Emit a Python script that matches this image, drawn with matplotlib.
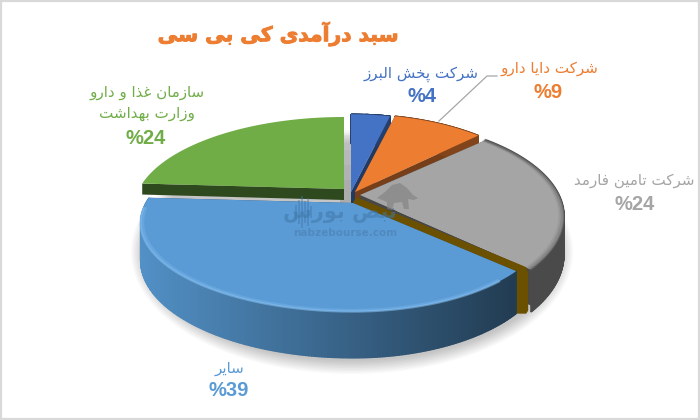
import numpy as np
import matplotlib
matplotlib.use("Agg")
import matplotlib.pyplot as plt
import matplotlib.patheffects as pe
from matplotlib.patches import Polygon, Rectangle
from matplotlib.colors import to_rgb

# ---- data ----
names = ["شرکت پخش البرز", "شرکت دایا دارو", "شرکت تامین فارمد", "سایر", "سازمان غذا و دارو\nوزارت بهداشت"]
values = [4, 9, 24, 39, 24]
colors = ["#4472c4", "#ed7d31", "#a5a5a5", "#5b9bd5", "#70ad47"]
title = "سبد درآمدی کی بی سی"

# matplotlib does no arabic shaping, so pick the presentation forms by hand
FORMS = {"ا": (0xFE8D, 2), "آ": (0xFE81, 2), "ب": (0xFE8F, 4), "پ": (0xFB56, 4), "ت": (0xFE95, 4),
         "خ": (0xFEA5, 4), "د": (0xFEA9, 2), "ذ": (0xFEAB, 2), "ر": (0xFEAD, 2), "ز": (0xFEAF, 2),
         "س": (0xFEB1, 4), "ش": (0xFEB5, 4), "ض": (0xFEBD, 4), "غ": (0xFECD, 4), "ف": (0xFED1, 4),
         "ک": (0xFB8E, 4), "ل": (0xFEDD, 4), "م": (0xFEE1, 4), "ن": (0xFEE5, 4), "و": (0xFEED, 2),
         "ه": (0xFEE9, 4), "ی": (0xFBFC, 4)}


def shape(text):
    out = []
    for i, c in enumerate(text):
        if c not in FORMS:
            out.append(c)
            continue
        start, n = FORMS[c]
        prev = text[i - 1] if i > 0 else " "
        nxt = text[i + 1] if i < len(text) - 1 else " "
        join_prev = prev in FORMS and FORMS[prev][1] == 4
        join_next = nxt in FORMS and n == 4
        if n == 2:
            offset = 1 if join_prev else 0
        elif join_prev and join_next:
            offset = 3
        elif join_next:
            offset = 2
        elif join_prev:
            offset = 1
        else:
            offset = 0
        out.append(chr(start + offset))
    return "".join(out[::-1])


fig = plt.figure(figsize=(7, 4.2), dpi=100)
ax = fig.add_axes([0, 0, 1, 1])
ax.set_xlim(0, 700)
ax.set_ylim(420, 0)
ax.axis("off")
ax.add_patch(Rectangle((1, 1), 697.5, 417.5, fc="white", ec="#d9d9d9", lw=1.6))

# projection of the tilted pie, the front is bigger than the back
A, B, K, DEPTH = 205, 88, 0.222, 36
apexes = [(351, 192), (355, 192), (360, 195), (353, 203), (344, 189)]
scale_y = [1.08, 1.08, 1.05, 0.96, 1.0]
scale_right = [0.93, 0.95, 0.97, 0.926, 1.0]
scale_left = [1.0, 1.0, 1.0, 1.01, 1.0]


def proj(frac, i, r=1.0):
    t = 2 * np.pi * np.asarray(frac)
    u, v = r * np.sin(t), -r * np.cos(t)
    w = 1 - K * v
    sx = np.where(u > 0, scale_right[i], scale_left[i])
    return apexes[i][0] + A * sx * u / w, apexes[i][1] + B * scale_y[i] * v / w, DEPTH / w


def shade(col, f):
    return tuple(np.clip(np.array(to_rgb(col)) * f, 0, 1))


# soft shadow under the pie
for grow in np.linspace(13, 0, 10):
    t = np.linspace(0, 2 * np.pi, 200)
    sx = 352 + (208 + grow) * np.cos(t)
    sy = 252 + (109 + grow) * np.sin(t)
    ax.add_patch(Polygon(np.c_[sx, sy], fc="black", ec="none", alpha=0.022, zorder=1))

# grey seen through the gap between the green and the blue slice
for top_y, al in zip([135, 150, 165, 180], [0.03, 0.03, 0.03, 0.03]):
    ax.add_patch(Rectangle((340, top_y), 16, 70, fc="black", ec="none", alpha=al, zorder=1.5))

fracs = np.cumsum([0] + values) / sum(values)
order = [4, 0, 1, 2, 3]
for z, i in enumerate(order):
    z0 = 2 + z * 2
    f0, f1 = fracs[i], fracs[i + 1]
    ap = apexes[i]
    col = colors[i]
    ts = np.linspace(f0, f1, 240)
    x, y, d = proj(ts, i)

    # cut faces
    cut_depth = 11 if i == 4 else DEPTH
    for end, f_cut in ((0, 0.42 if i == 4 else 0.62), (-1, 0.5)):
        dd = min(d[end], cut_depth)
        q = [(ap[0], ap[1]), (x[end], y[end]), (x[end], y[end] + dd), (ap[0], ap[1] + dd)]
        fc = "#484848" if i == 2 else shade(col, f_cut)
        ax.add_patch(Polygon(q, fc=fc, ec="none", zorder=z0))

    # gold band between the grey and the big blue slice
    if i == 3:
        px, py, pd = x[0], y[0], d[0]
        band = [(ap[0], ap[1]), (ap[0] + 3, ap[1] - 6), (px + 3, py - 7), (px + 10, py - 4), (px + 12, py + 2),
                (px + 12, py + pd - 3), (px + 10, py + pd), (px - 1, py + pd), (px, py)]
        ax.add_patch(Polygon(band, fc="#6b5000", ec="none", zorder=z0))

    # outer wall as thin quads, so it can carry a gradient
    if i != 4:
        for k in range(len(ts) - 1):
            if i == 3:
                s = np.clip((x[k] - 140) / 375, 0, 1)
                c = np.array(to_rgb("#5290c6")) * (1 - s) + np.array(to_rgb("#223c52")) * s
            elif i == 2:
                c = to_rgb("#4a4a4a")
            else:
                c = shade(col, 0.55)
            q = [(x[k], y[k]), (x[k + 1], y[k + 1]), (x[k + 1], y[k + 1] + d[k + 1]), (x[k], y[k] + d[k])]
            ax.add_patch(Polygon(q, fc=c, ec=c, lw=1.0, zorder=z0 + 0.2))

    # top face
    top = np.r_[[ap], np.c_[x, y]]
    ax.add_patch(Polygon(top, fc=col, ec="none", zorder=z0 + 1))

    # bevel along the rim
    if i == 3:
        for r, al, lw in ((1.0, 0.55, 1.6), (0.99, 0.25, 2.0)):
            bx, by, _ = proj(ts[12:-12], i, r)
            ax.plot(bx, by, color="#8ac4f5", lw=lw, alpha=al, zorder=z0 + 1.5, solid_capstyle="round")
    elif i == 2:
        for r, al in ((1.0, 0.6), (0.99, 0.35), (0.98, 0.15)):
            bx, by, _ = proj(ts, i, r)
            ax.plot(bx, by, color="#555555", lw=1.6, alpha=al, zorder=z0 + 1.5)

# leader line for the orange label
ax.plot([497, 487, 439], [76, 76, 121], color="#a6a6a6", lw=0.9, zorder=20)

# watermark
ax.text(345, 233, "nabzebourse.com", ha="center", va="center", fontsize=7.5, weight="bold",
        family="DejaVu Sans", color="#3f6f9c", alpha=0.4, zorder=21)
ax.text(340, 213, shape("نبض بورس"), ha="center", va="center", fontsize=15, weight="bold",
        family="DejaVu Sans", color="#3f77a8", alpha=0.55, zorder=21)
bar_x = [296, 299, 302, 305, 308, 311]
bar_h = [7, 12, 16, 11, 14, 6]
ax.vlines(bar_x, [212 - h for h in bar_h], [212 + h for h in bar_h], color="#3f77a8", lw=1.2, alpha=0.5, zorder=21)
bull = [(377, 198), (385, 192), (392, 185), (400, 183), (407, 188), (413, 195), (418, 198), (414, 200),
        (408, 199), (409, 209), (404, 209), (402, 202), (394, 203), (392, 210), (387, 209), (387, 202)]
ax.add_patch(Polygon(bull, fc="#7f7f7f", ec="none", alpha=0.6, zorder=21))

# labels
ax.text(278, 34, shape(title), ha="center", va="center", fontsize=14.6, weight="bold",
        family="DejaVu Sans", color="#ed7d31", zorder=30,
        path_effects=[pe.withStroke(linewidth=0.7, foreground="#ed7d31")])

name_pos = [(421, 74), (549, 68), (634, 180), (230, 369), (147, 103)]
pct_pos = [(422, 97), (548, 92), (635, 204), (229, 391), (146, 138)]
for i, nm in enumerate(names):
    lab = "\n".join(shape(p) for p in nm.split("\n"))
    ax.text(name_pos[i][0], name_pos[i][1], lab, ha="center", va="center", fontsize=10.9,
            family="DejaVu Sans", color=colors[i], linespacing=1.5, zorder=30)
    ax.text(pct_pos[i][0], pct_pos[i][1], "%" + str(values[i]), ha="center", va="center",
            fontsize=14.5, weight="bold", family="Liberation Sans", color=colors[i], zorder=30)

fig.savefig("out.png", dpi=100)
